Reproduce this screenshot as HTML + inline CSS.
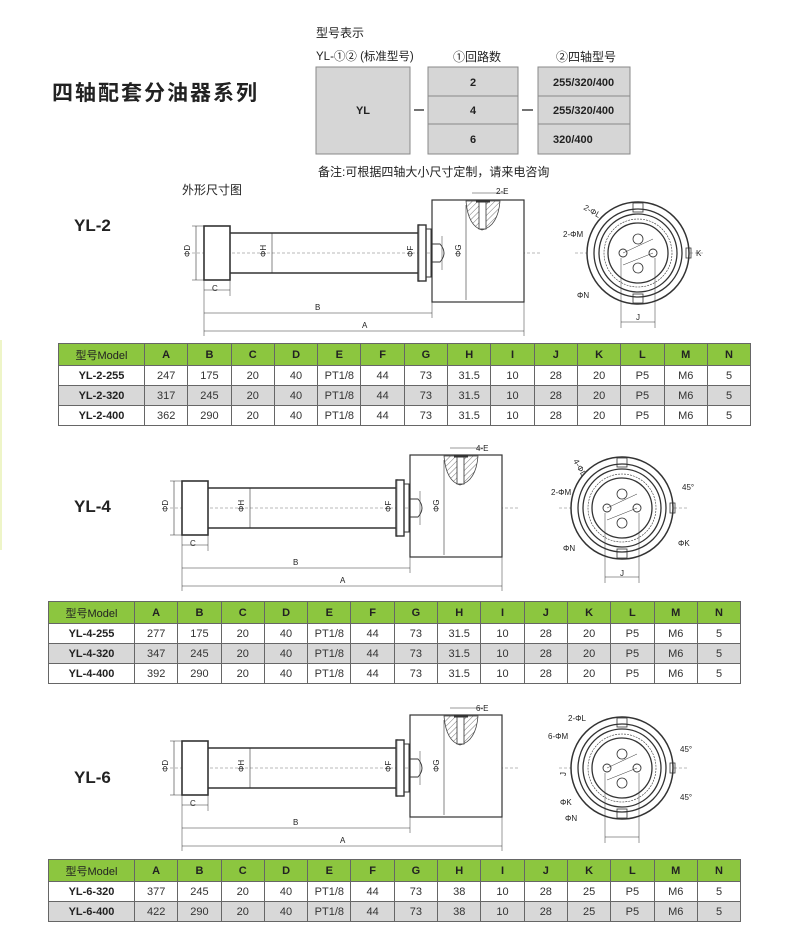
<!DOCTYPE html>
<html><head><meta charset="utf-8"><style>
html,body{margin:0;padding:0;background:#fff;}
body{width:806px;height:943px;position:relative;overflow:hidden;font-family:"Liberation Sans","Noto Sans CJK SC",sans-serif;}
.t{position:absolute;border-collapse:collapse;table-layout:fixed;font-size:11px;color:#333;}
.t td{border:1px solid #666;text-align:center;padding:0;height:19px;}
.t tr.h td{background:#8cc63f;font-weight:bold;color:#222;height:21px;}
.t tr.h td:first-child{font-weight:normal;}
.t tr.g td{background:#d8d8d8;}
.t td.m{font-weight:bold;color:#222;}
.abs{position:absolute;white-space:nowrap;}
</style></head><body>
<div style="position:absolute;left:0;top:340px;width:2px;height:210px;background:#eef5c8"></div>
<div class="abs" style="left:52px;top:77px;font-size:21px;letter-spacing:2px;color:#222;font-weight:bold;">四轴配套分油器系列</div>
<div class="abs" style="left:316px;top:24px;font-size:12px;color:#222;">型号表示</div>
<div class="abs" style="left:316px;top:48px;font-size:11.5px;color:#222;">YL-①② (标准型号)</div>
<div class="abs" style="left:453px;top:48px;font-size:12px;color:#222;">①回路数</div>
<div class="abs" style="left:556px;top:48px;font-size:12px;color:#222;">②四轴型号</div>
<div class="abs" style="left:318px;top:163px;font-size:12px;color:#222;">备注:可根据四轴大小尺寸定制，请来电咨询</div>
<div class="abs" style="left:182px;top:181px;font-size:12px;color:#222;">外形尺寸图</div>
<div class="abs" style="left:74px;top:216px;font-size:17px;font-weight:bold;color:#222;">YL-2</div>
<div class="abs" style="left:74px;top:497px;font-size:17px;font-weight:bold;color:#222;">YL-4</div>
<div class="abs" style="left:74px;top:768px;font-size:17px;font-weight:bold;color:#222;">YL-6</div>

<svg width="806" height="943" style="position:absolute;left:0;top:0" xmlns="http://www.w3.org/2000/svg" font-family="Liberation Sans, sans-serif">
<defs>
<pattern id="hat" width="4" height="4" patternUnits="userSpaceOnUse" patternTransform="rotate(45)"><line x1="0" y1="0" x2="0" y2="4" stroke="#555" stroke-width="0.8"/></pattern>
<g id="side" fill="none" stroke="#333">
<line x1="192" y1="253" x2="540" y2="253" stroke="#777" stroke-width="0.6" stroke-dasharray="3,2"/>
<rect x="204" y="226" width="26" height="54" stroke-width="1.6" fill="#fff"/>
<line x1="230" y1="233" x2="418" y2="233" stroke-width="1.6"/>
<line x1="230" y1="273" x2="418" y2="273" stroke-width="1.6"/>
<rect x="418" y="225" width="8" height="56" stroke-width="1.4" fill="#fff"/>
<rect x="426" y="229" width="5" height="48" stroke-width="1"/>
<rect x="432" y="200" width="92" height="102" stroke-width="1.2" fill="#fff"/>
<path d="M466 201 Q468 226 482 230 Q498 226 500 201 Z" fill="url(#hat)" stroke="#444" stroke-width="0.8"/>
<rect x="479" y="201" width="7" height="28" fill="#fff" stroke="#333" stroke-width="0.8"/>
<line x1="476" y1="201" x2="490" y2="201" stroke-width="3"/>
<path d="M432 244 L440 244 Q448 253 440 262 L432 262" stroke-width="0.9"/>
<line x1="442" y1="236" x2="442" y2="270" stroke-width="0.5"/>
<line x1="196" y1="226" x2="196" y2="280" stroke-width="0.6"/>
<line x1="192" y1="226" x2="204" y2="226" stroke-width="0.5"/>
<line x1="192" y1="280" x2="204" y2="280" stroke-width="0.5"/>
<line x1="272" y1="233" x2="272" y2="273" stroke-width="0.6"/>
<line x1="419" y1="224" x2="419" y2="282" stroke-width="0.5"/>
<line x1="466" y1="205" x2="466" y2="300" stroke-width="0.6"/>
<line x1="204" y1="280" x2="204" y2="336" stroke-width="0.5"/>
<line x1="230" y1="280" x2="230" y2="296" stroke-width="0.5"/>
<line x1="432" y1="302" x2="432" y2="318" stroke-width="0.5"/>
<line x1="524" y1="302" x2="524" y2="336" stroke-width="0.5"/>
<line x1="204" y1="290" x2="230" y2="290" stroke-width="0.6"/>
<line x1="204" y1="313" x2="432" y2="313" stroke-width="0.6"/>
<line x1="204" y1="331" x2="524" y2="331" stroke-width="0.6"/>
<line x1="472" y1="193" x2="505" y2="193" stroke-width="0.5"/>
</g>
<g id="circ" fill="none" stroke="#333">
<line x1="575" y1="253" x2="705" y2="253" stroke="#777" stroke-width="0.5" stroke-dasharray="3,2"/>
<circle cx="638" cy="253" r="51" stroke-width="1.5" fill="#fff"/>
<circle cx="638" cy="253" r="44" stroke-width="1.3"/>
<circle cx="638" cy="253" r="39" stroke-width="1.3"/>
<circle cx="638" cy="253" r="34" stroke-width="0.6" stroke-dasharray="2,1"/>
<circle cx="638" cy="253" r="30" stroke-width="1.3"/>
<rect x="633" y="203" width="10" height="9" stroke-width="0.8"/>
<rect x="633" y="294" width="10" height="9" stroke-width="0.8"/>
<rect x="686" y="248" width="5" height="10" stroke-width="0.8"/>
<circle cx="623" cy="253" r="4" stroke-width="0.9"/>
<circle cx="653" cy="253" r="4" stroke-width="0.9"/>
<circle cx="638" cy="239" r="5" stroke-width="0.8"/>
<circle cx="638" cy="268" r="5" stroke-width="0.8"/>
<line x1="623" y1="253" x2="653" y2="239" stroke-width="0.5"/>
<line x1="623" y1="265" x2="653" y2="253" stroke-width="0.5"/>
<line x1="621" y1="258" x2="621" y2="328" stroke-width="0.5"/>
<line x1="655" y1="258" x2="655" y2="328" stroke-width="0.5"/>
<line x1="621" y1="322" x2="655" y2="322" stroke-width="0.6"/>
</g>
</defs>

<g stroke="#888" stroke-width="1" fill="#d6d6d6">
<rect x="316" y="67" width="94" height="87"/>
<rect x="428" y="67" width="90" height="29"/><rect x="428" y="96" width="90" height="28"/><rect x="428" y="124" width="90" height="30"/>
<rect x="538" y="67" width="92" height="29"/><rect x="538" y="96" width="92" height="28"/><rect x="538" y="124" width="92" height="30"/>
</g>
<line x1="414" y1="110" x2="424" y2="110" stroke="#444" stroke-width="1.5"/>
<line x1="522" y1="110" x2="533" y2="110" stroke="#444" stroke-width="1.5"/>
<g font-size="11" font-weight="bold" fill="#222">
<text x="363" y="114" text-anchor="middle">YL</text>
<text x="473" y="86" text-anchor="middle">2</text><text x="473" y="114" text-anchor="middle">4</text><text x="473" y="143" text-anchor="middle">6</text>
<text x="553" y="86">255/320/400</text><text x="553" y="114">255/320/400</text><text x="553" y="143">320/400</text>
</g>

<use href="#side"/>
<use href="#circ"/>
<use href="#side" transform="translate(-22,255)"/>
<use href="#circ" transform="translate(-16,255)"/>
<use href="#side" transform="translate(-22,515)"/>
<use href="#circ" transform="translate(-16,515)"/>

<g font-size="8" fill="#222">
<text x="212" y="291">C</text><text x="315" y="310">B</text><text x="362" y="328">A</text>
<text transform="translate(190,257) rotate(-90)">ΦD</text>
<text transform="translate(266,257) rotate(-90)">ΦH</text>
<text transform="translate(413,257) rotate(-90)">ΦF</text>
<text transform="translate(461,257) rotate(-90)">ΦG</text>
<text x="496" y="194">2-E</text>
<text x="583" y="209" transform="rotate(30 583 209)">2-ΦL</text>
<text x="563" y="237">2-ΦM</text>
<text x="577" y="298">ΦN</text>
<text x="636" y="320">J</text>
<text x="696" y="256">K</text>
<text x="190" y="546">C</text><text x="293" y="565">B</text><text x="340" y="583">A</text>
<text transform="translate(168,512) rotate(-90)">ΦD</text>
<text transform="translate(244,512) rotate(-90)">ΦH</text>
<text transform="translate(391,512) rotate(-90)">ΦF</text>
<text transform="translate(439,512) rotate(-90)">ΦG</text>
<text x="476" y="451">4-E</text>
<text x="573" y="461" transform="rotate(60 573 461)">4-ΦL</text>
<text x="551" y="495">2-ΦM</text>
<text x="563" y="551">ΦN</text>
<text x="678" y="546">ΦK</text>
<text x="682" y="490">45°</text>
<text x="620" y="576">J</text>
<text x="190" y="806">C</text><text x="293" y="825">B</text><text x="340" y="843">A</text>
<text transform="translate(168,772) rotate(-90)">ΦD</text>
<text transform="translate(244,772) rotate(-90)">ΦH</text>
<text transform="translate(391,772) rotate(-90)">ΦF</text>
<text transform="translate(439,772) rotate(-90)">ΦG</text>
<text x="476" y="711">6-E</text>
<text x="568" y="721">2-ΦL</text>
<text x="548" y="739">6-ΦM</text>
<text x="560" y="805">ΦK</text>
<text x="565" y="821">ΦN</text>
<text x="680" y="752">45°</text>
<text x="680" y="800">45°</text>
<text transform="translate(566,776) rotate(-90)">J</text>
</g>
</svg>

<table class="t" style="left:58px;top:343px;width:692px;">
<colgroup><col style="width:86px"><col span="14" style="width:43.3px"></colgroup>
<tr class="h"><td>型号Model</td><td>A</td><td>B</td><td>C</td><td>D</td><td>E</td><td>F</td><td>G</td><td>H</td><td>I</td><td>J</td><td>K</td><td>L</td><td>M</td><td>N</td></tr>
<tr><td class="m">YL-2-255</td><td>247</td><td>175</td><td>20</td><td>40</td><td>PT1/8</td><td>44</td><td>73</td><td>31.5</td><td>10</td><td>28</td><td>20</td><td>P5</td><td>M6</td><td>5</td></tr>
<tr class="g"><td class="m">YL-2-320</td><td>317</td><td>245</td><td>20</td><td>40</td><td>PT1/8</td><td>44</td><td>73</td><td>31.5</td><td>10</td><td>28</td><td>20</td><td>P5</td><td>M6</td><td>5</td></tr>
<tr><td class="m">YL-2-400</td><td>362</td><td>290</td><td>20</td><td>40</td><td>PT1/8</td><td>44</td><td>73</td><td>31.5</td><td>10</td><td>28</td><td>20</td><td>P5</td><td>M6</td><td>5</td></tr>
</table>

<table class="t" style="left:48px;top:601px;width:692px;">
<colgroup><col style="width:86px"><col span="14" style="width:43.3px"></colgroup>
<tr class="h"><td>型号Model</td><td>A</td><td>B</td><td>C</td><td>D</td><td>E</td><td>F</td><td>G</td><td>H</td><td>I</td><td>J</td><td>K</td><td>L</td><td>M</td><td>N</td></tr>
<tr><td class="m">YL-4-255</td><td>277</td><td>175</td><td>20</td><td>40</td><td>PT1/8</td><td>44</td><td>73</td><td>31.5</td><td>10</td><td>28</td><td>20</td><td>P5</td><td>M6</td><td>5</td></tr>
<tr class="g"><td class="m">YL-4-320</td><td>347</td><td>245</td><td>20</td><td>40</td><td>PT1/8</td><td>44</td><td>73</td><td>31.5</td><td>10</td><td>28</td><td>20</td><td>P5</td><td>M6</td><td>5</td></tr>
<tr><td class="m">YL-4-400</td><td>392</td><td>290</td><td>20</td><td>40</td><td>PT1/8</td><td>44</td><td>73</td><td>31.5</td><td>10</td><td>28</td><td>20</td><td>P5</td><td>M6</td><td>5</td></tr>
</table>

<table class="t" style="left:48px;top:859px;width:692px;">
<colgroup><col style="width:86px"><col span="14" style="width:43.3px"></colgroup>
<tr class="h"><td>型号Model</td><td>A</td><td>B</td><td>C</td><td>D</td><td>E</td><td>F</td><td>G</td><td>H</td><td>I</td><td>J</td><td>K</td><td>L</td><td>M</td><td>N</td></tr>
<tr><td class="m">YL-6-320</td><td>377</td><td>245</td><td>20</td><td>40</td><td>PT1/8</td><td>44</td><td>73</td><td>38</td><td>10</td><td>28</td><td>25</td><td>P5</td><td>M6</td><td>5</td></tr>
<tr class="g"><td class="m">YL-6-400</td><td>422</td><td>290</td><td>20</td><td>40</td><td>PT1/8</td><td>44</td><td>73</td><td>38</td><td>10</td><td>28</td><td>25</td><td>P5</td><td>M6</td><td>5</td></tr>
</table>
</body></html>
